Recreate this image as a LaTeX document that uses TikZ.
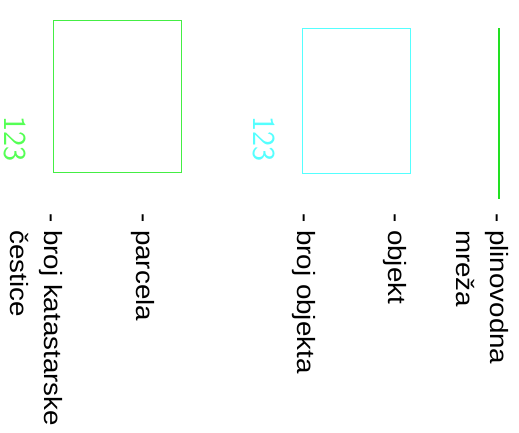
\documentclass[tikz,border=0pt]{standalone}
\usepackage{fontspec}
\setmainfont{Liberation Sans}
\usepackage{graphicx}
\definecolor{gasgreen}{HTML}{22E022}
\definecolor{parcelgreen}{HTML}{44EE44}
\definecolor{numgreen}{HTML}{55FF55}
\definecolor{objcyan}{HTML}{55FFFF}
\newcommand{\legtext}[1]{\scalebox{1.11}[1]{\begin{tabular}[t]{@{}l@{}}#1\end{tabular}}}
\begin{document}
\begin{tikzpicture}[x=1pt, y=-1pt]
  % Styles
  \tikzstyle{legend}=[rotate=-90, anchor=base west, inner sep=0pt, font=\fontsize{25}{34}\selectfont]
  \tikzstyle{number}=[rotate=-90, anchor=base west, inner sep=0pt, font=\fontsize{32}{36}\selectfont\sffamily]

  \useasboundingbox (0,0) rectangle (519,432);

  % Plinovodna mreza
  \draw[gasgreen, line width=2pt] (498.7,28) -- (498.7,199);
  \node[legend] (gaslabel) at (490,213) {\legtext{- plinovodna\\\phantom{- }mreža}};

  % Objekt
  \draw[objcyan, line width=1pt] (302.7,28.7) rectangle (410.7,173.7);
  \node[number, objcyan] (objnum) at (253.5,116) {123};
  \node[legend] (objlabel) at (388.5,213) {\legtext{- objekt}};
  \node[legend] (objnumlabel) at (297,213) {\legtext{- broj objekta}};

  % Parcela
  \draw[parcelgreen, line width=1pt] (53.7,20.3) rectangle (181.3,172.7);
  \node[number, numgreen] (parcnum) at (5,116) {123};
  \node[legend] (parclabel) at (136.5,213) {\legtext{- parcela}};
  \node[legend] (parcnumlabel) at (44.3,213) {\legtext{- broj katastarske\\\phantom{- }čestice}};
\end{tikzpicture}
\end{document}
